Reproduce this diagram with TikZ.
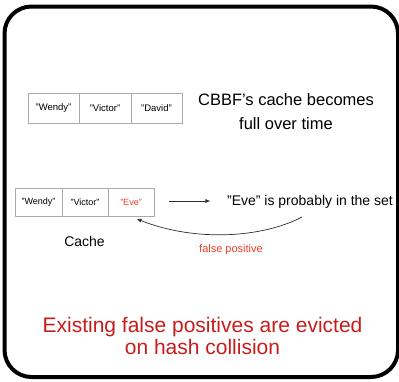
\documentclass[tikz,border=0pt]{standalone}
\usepackage{fontspec}
\setmainfont{Liberation Sans}
\usetikzlibrary{positioning,arrows.meta}
\definecolor{hitred}{RGB}{232,62,40}
\definecolor{evictred}{RGB}{200,28,28}
\definecolor{cellgray}{RGB}{170,170,170}
\definecolor{arrowgray}{RGB}{45,45,45}
\begin{document}
\begin{tikzpicture}[x=1pt,y=-1pt,
		cell/.style = {shape=rectangle, draw=cellgray, line width=0.6pt,
			outer sep=0pt, inner sep=0pt, minimum height=30pt},
		smallcell/.style = {cell, minimum height=28pt},
		label/.style = {align=center, inner sep=0pt},
		link/.style = {draw=arrowgray, line width=0.7pt,
			-{Triangle[length=4.5pt,width=3.5pt]}}]
		\useasboundingbox (0,0) rectangle (399,381);
		\draw[line width=4pt, rounded corners=27pt] (4.5,6.5) rectangle (398,377);

		% cache that has filled up
		\node[cell, minimum width=51pt, font=\fontsize{9.5}{11}\selectfont] (wendyA) at (53.5,108) {"Wendy"};
		\node[cell, minimum width=52pt, font=\fontsize{9.5}{11}\selectfont, right=0pt of wendyA] (victorA) {"Victor"};
		\node[cell, minimum width=51pt, font=\fontsize{9.5}{11}\selectfont, right=0pt of victorA] (davidA) {"David"};
		\node[label, font=\fontsize{16.5}{24}\selectfont] (fulltext) at (286,112) {CBBF’s cache becomes\\full over time};

		% lookup hits the cached false positive
		\node[smallcell, minimum width=47pt, font=\fontsize{9}{11}\selectfont] (wendyB) at (38.5,202) {"Wendy"};
		\node[smallcell, minimum width=46pt, font=\fontsize{9}{11}\selectfont, right=0pt of wendyB] (victorB) {"Victor"};
		\node[smallcell, minimum width=46pt, font=\fontsize{9}{11}\selectfont, text=hitred, right=0pt of victorB] (eve) {"Eve"};
		\node[label, font=\fontsize{14}{17}\selectfont] (evetext) at (310,202) {"Eve" is probably in the set};
		\node[label, font=\fontsize{14}{17}\selectfont] (cachename) at (84.5,241.5) {Cache};
		\node[label, font=\fontsize{11}{13}\selectfont, text=hitred] (fpname) at (231,250) {false positive};
		\coordinate (fpstart) at (302,217);

		\path[link] ([xshift=15pt,yshift=1pt]eve.east) -- ([xshift=-17pt,yshift=1pt]evetext.west);
		\path[link] (fpstart) .. controls (262,238) and (195,242) .. ([xshift=6pt,yshift=-3pt]eve.south);

		\node[label, font=\fontsize{21}{22}\selectfont, text=evictred] (evicttext) at (202.5,336) {Existing false positives are evicted\\on hash collision};
	\end{tikzpicture}
\end{document}
